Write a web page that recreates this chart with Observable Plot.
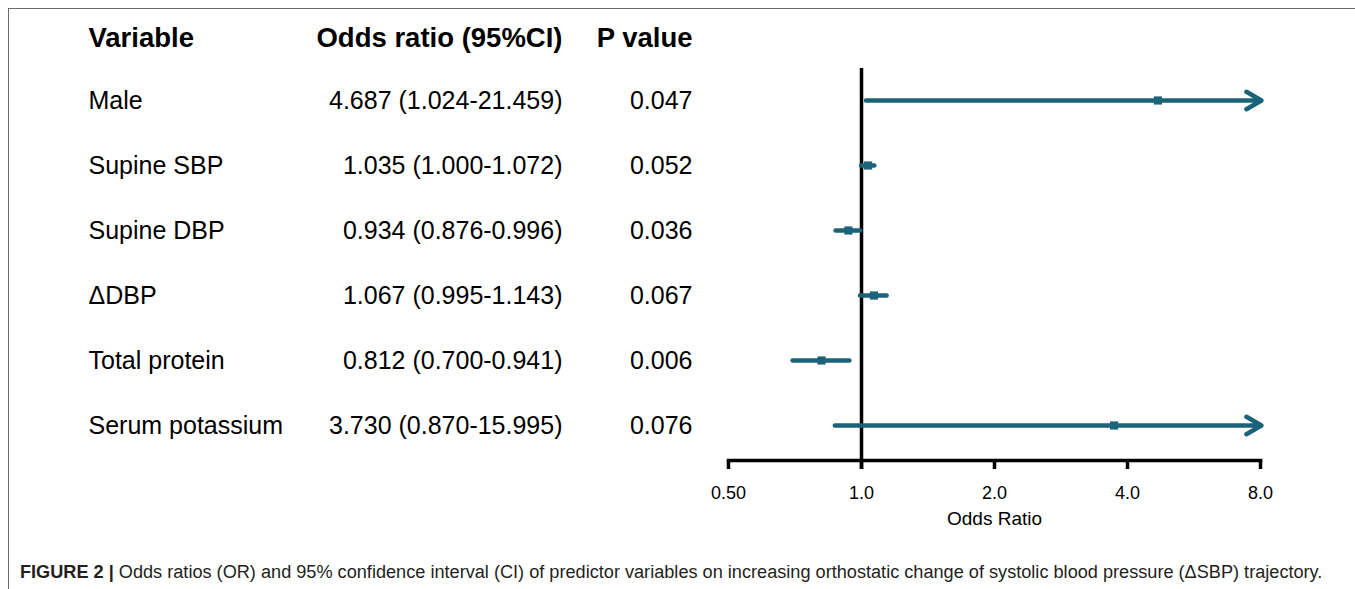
<!DOCTYPE html>
<html>
<head>
<meta charset="utf-8">
<script src="https://cdn.jsdelivr.net/npm/d3@7"></script>
<script src="https://cdn.jsdelivr.net/npm/@observablehq/plot@0.6"></script>
<style>
  html, body { margin: 0; padding: 0; background: #fff; }
  #wrap { position: relative; width: 1355px; height: 589px; overflow: hidden; font-family: "Liberation Sans", Arial, sans-serif; }
  #border { position: absolute; left: 8px; top: 8px; right: -10px; bottom: -10px; border-top: 1.5px solid #6b6b6b; border-left: 1.5px solid #6b6b6b; pointer-events: none; }
  #caption { position: absolute; left: 20px; top: 562px; font-size: 18.15px; color: #231f20; white-space: nowrap; }
  #caption b { font-weight: bold; }
</style>
</head>
<body>
<div id="wrap">
  <div id="chart"></div>
  <div id="caption"><b>FIGURE 2 |</b> Odds ratios (OR) and 95% confidence interval (CI) of predictor variables on increasing orthostatic change of systolic blood pressure (ΔSBP) trajectory.</div>
  <div id="border"></div>
</div>
<script>
// ---- data ----
const variables = ["Male", "Supine SBP", "Supine DBP", "ΔDBP", "Total protein", "Serum potassium"];
const oddsRatio = [4.687, 1.035, 0.934, 1.067, 0.812, 3.730];
const ciLower   = [1.024, 1.000, 0.876, 0.995, 0.700, 0.870];
const ciUpper   = [21.459, 1.072, 0.996, 1.143, 0.941, 15.995];
const orLabels  = ["4.687 (1.024-21.459)", "1.035 (1.000-1.072)", "0.934 (0.876-0.996)", "1.067 (0.995-1.143)", "0.812 (0.700-0.941)", "3.730 (0.870-15.995)"];
const pValues   = ["0.047", "0.052", "0.036", "0.067", "0.006", "0.076"];
const headers   = ["Variable", "Odds ratio (95%CI)", "P value"];
const xTicks    = [0.5, 1, 2, 4, 8];
const xTickLabels = ["0.50", "1.0", "2.0", "4.0", "8.0"];
const xMax = 8, xMin = 0.5;

const rows = variables.map((v, i) => ({
  name: v, or: oddsRatio[i], lo: ciLower[i], hi: ciUpper[i],
  label: orLabels[i], p: pValues[i],
  loC: Math.max(ciLower[i], xMin), hiC: Math.min(ciUpper[i], xMax),
  truncated: ciUpper[i] > xMax
}));
const tickRows = xTicks.map((t, i) => ({ t, label: xTickLabels[i] }));

const teal = "#1b6378";
const W = 1355, H = 545;
const mL = 728, mR = 95, mT = 38, mB = 85;
const font = "Liberation Sans, Arial, sans-serif";

const plot = Plot.plot({
  width: W, height: H,
  marginLeft: mL, marginRight: mR, marginTop: mT, marginBottom: mB,
  style: { fontFamily: font, background: "transparent", color: "#000", overflow: "visible" },
  x: { type: "log", domain: [xMin, xMax] },
  y: { type: "point", domain: variables, range: [100, 425], padding: 0, axis: null },
  marks: [
    // headers
    Plot.text([headers[0]], { frameAnchor: "top-left", dx: 88 - mL, textAnchor: "start", fontSize: 27.5, fontWeight: "bold", lineAnchor: "middle", fill: "#000" }),
    Plot.text([headers[1]], { frameAnchor: "top-left", dx: 562 - mL, textAnchor: "end", fontSize: 27.5, fontWeight: "bold", lineAnchor: "middle", fill: "#000" }),
    Plot.text([headers[2]], { frameAnchor: "top-left", dx: 692 - mL, textAnchor: "end", fontSize: 27.5, fontWeight: "bold", lineAnchor: "middle", fill: "#000" }),
    // table columns
    Plot.text(rows, { y: "name", text: "name", frameAnchor: "left", dx: 88 - mL, textAnchor: "start", fontSize: 25, fill: "#000" }),
    Plot.text(rows, { y: "name", text: "label", frameAnchor: "left", dx: 562 - mL, textAnchor: "end", fontSize: 25, fill: "#000" }),
    Plot.text(rows, { y: "name", text: "p", frameAnchor: "left", dx: 692 - mL, textAnchor: "end", fontSize: 25, fill: "#000" }),
    // reference line at OR = 1
    Plot.ruleX([1], { stroke: "#000", strokeWidth: 3.5, insetTop: 30, insetBottom: -9 }),
    // confidence intervals
    Plot.ruleY(rows.filter(d => !d.truncated), { y: "name", x1: "loC", x2: "hiC", stroke: teal, strokeWidth: 4.5, strokeLinecap: "round" }),
    Plot.arrow(rows.filter(d => d.truncated), { y1: "name", y2: "name", x1: "loC", x2: "hiC", stroke: teal, strokeWidth: 4.5, headLength: 5.8, headAngle: 60, insetEnd: -1, strokeLinecap: "round" }),
    // point estimates
    Plot.dot(rows, { y: "name", x: "or", symbol: "square", r: 4.6, fill: teal, stroke: "none" }),
    // x axis
    Plot.frame({ anchor: "bottom", stroke: "#000", strokeWidth: 3.5, strokeLinecap: "square" }),
    Plot.axisX({ ticks: xTicks, tickSize: 9, tickFormat: () => "", strokeWidth: 3.5, label: null, stroke: "#000" }),
    Plot.text(tickRows, { x: "t", text: "label", frameAnchor: "bottom", dy: 33, fontSize: 18, fill: "#000", lineAnchor: "middle" }),
    Plot.text(["Odds Ratio"], { frameAnchor: "bottom", dy: 58, fontSize: 19, fill: "#000", lineAnchor: "middle" })
  ]
});
document.getElementById("chart").appendChild(plot);
</script>
</body>
</html>
